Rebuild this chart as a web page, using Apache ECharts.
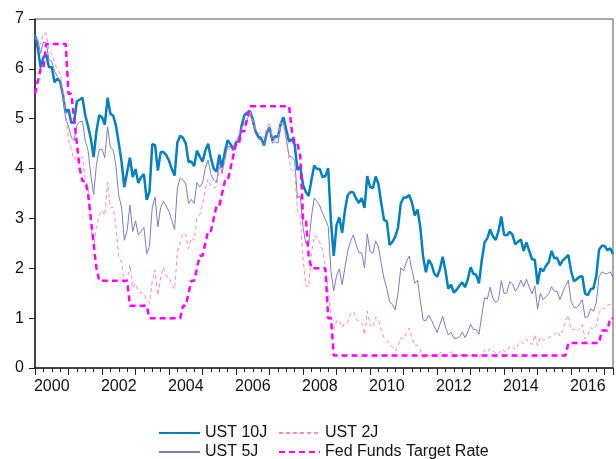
<!DOCTYPE html>
<html>
<head>
<meta charset="utf-8">
<script src="https://cdn.jsdelivr.net/npm/echarts@6/dist/echarts.min.js"></script>
<style>
  html, body { margin: 0; padding: 0; background: #fff; }
  #chart { width: 616px; height: 459px; }
</style>
</head>
<body>
<div id="chart"></div>
<script>
// monthly, month-end, Jan 2000 - Apr 2017
const startYear = 2000
const yearTicks = ['2000', '2002', '2004', '2006', '2008', '2010', '2012', '2014', '2016']

const ust10 = [
  6.68, 6.42, 6.03, 6.23, 6.29, 6.03, 6.04, 5.73, 5.80, 5.75, 5.48, 5.12,
  5.19, 4.92, 4.93, 5.35, 5.38, 5.42, 5.07, 4.85, 4.60, 4.23, 4.75, 5.07,
  5.03, 4.88, 5.42, 5.10, 5.06, 4.86, 4.51, 4.14, 3.63, 3.93, 4.22, 3.83,
  3.99, 3.71, 3.83, 3.89, 3.37, 3.54, 4.49, 4.47, 3.96, 4.33, 4.33, 4.27,
  4.16, 3.99, 3.86, 4.53, 4.66, 4.62, 4.50, 4.13, 4.14, 4.05, 4.36, 4.24,
  4.14, 4.36, 4.50, 4.21, 4.00, 3.94, 4.28, 4.02, 4.34, 4.57, 4.49, 4.39,
  4.53, 4.55, 4.86, 5.07, 5.12, 5.15, 4.99, 4.74, 4.64, 4.61, 4.46, 4.71,
  4.83, 4.56, 4.65, 4.63, 4.90, 5.03, 4.78, 4.54, 4.59, 4.48, 3.97, 4.04,
  3.67, 3.53, 3.45, 3.77, 4.06, 3.99, 3.99, 3.83, 3.85, 4.01, 2.93, 2.25,
  2.87, 3.02, 2.71, 3.16, 3.47, 3.53, 3.52, 3.40, 3.31, 3.41, 3.21, 3.85,
  3.63, 3.61, 3.84, 3.69, 3.31, 2.97, 2.94, 2.47, 2.53, 2.63, 2.81, 3.30,
  3.42, 3.42, 3.47, 3.32, 3.06, 3.18, 2.82, 2.23, 1.92, 2.17, 2.08, 1.89,
  1.83, 1.98, 2.23, 1.95, 1.59, 1.67, 1.51, 1.57, 1.65, 1.72, 1.62, 1.78,
  2.02, 1.89, 1.87, 1.70, 2.16, 2.52, 2.60, 2.78, 2.64, 2.57, 2.75, 3.04,
  2.67, 2.66, 2.73, 2.67, 2.48, 2.53, 2.58, 2.35, 2.52, 2.35, 2.18, 2.17,
  1.68, 2.00, 1.94, 2.05, 2.12, 2.35, 2.20, 2.21, 2.06, 2.16, 2.21, 2.27,
  1.94, 1.74, 1.78, 1.83, 1.84, 1.49, 1.46, 1.58, 1.60, 1.84, 2.37, 2.45,
  2.45, 2.36, 2.40, 2.29
]

const ust5 = [
  6.67, 6.59, 6.31, 6.54, 6.52, 6.18, 6.15, 5.95, 5.85, 5.77, 5.42, 4.99,
  4.85, 4.63, 4.56, 4.87, 4.94, 4.95, 4.56, 4.36, 3.87, 3.48, 4.08, 4.38,
  4.39, 4.22, 4.84, 4.43, 4.37, 4.06, 3.45, 3.23, 2.56, 2.76, 3.27, 2.74,
  2.95, 2.67, 2.74, 2.82, 2.29, 2.44, 3.23, 3.43, 2.83, 3.22, 3.34, 3.25,
  3.14, 2.96, 2.78, 3.62, 3.81, 3.77, 3.69, 3.30, 3.38, 3.30, 3.72, 3.63,
  3.71, 4.01, 4.17, 3.88, 3.77, 3.72, 4.12, 3.91, 4.18, 4.45, 4.43, 4.35,
  4.46, 4.62, 4.82, 4.92, 4.99, 5.10, 4.90, 4.71, 4.59, 4.57, 4.45, 4.70,
  4.82, 4.51, 4.54, 4.51, 4.85, 4.92, 4.60, 4.25, 4.23, 4.16, 3.41, 3.45,
  2.82, 2.50, 2.46, 3.03, 3.41, 3.34, 3.25, 3.10, 2.98, 2.84, 1.93, 1.55,
  1.85, 1.99, 1.67, 2.02, 2.34, 2.54, 2.67, 2.48, 2.31, 2.31, 2.01, 2.69,
  2.34, 2.30, 2.55, 2.43, 2.10, 1.79, 1.60, 1.33, 1.27, 1.17, 1.49, 2.01,
  1.95, 2.13, 2.24, 1.97, 1.70, 1.76, 1.35, 0.96, 0.95, 1.06, 0.96, 0.83,
  0.71, 0.87, 1.04, 0.82, 0.67, 0.72, 0.60, 0.59, 0.62, 0.72, 0.61, 0.72,
  0.88, 0.77, 0.77, 0.68, 1.05, 1.41, 1.38, 1.62, 1.39, 1.31, 1.37, 1.75,
  1.49, 1.51, 1.73, 1.69, 1.54, 1.62, 1.76, 1.63, 1.78, 1.62, 1.49, 1.65,
  1.18, 1.50, 1.37, 1.43, 1.49, 1.63, 1.54, 1.54, 1.37, 1.52, 1.65, 1.76,
  1.33, 1.22, 1.21, 1.28, 1.37, 1.01, 1.03, 1.19, 1.14, 1.31, 1.83, 1.93,
  1.90, 1.89, 1.93, 1.81
]

const ust2 = [
  6.61, 6.59, 6.49, 6.71, 6.72, 6.36, 6.30, 6.13, 5.98, 5.91, 5.58, 5.11,
  4.57, 4.38, 4.18, 4.28, 4.17, 4.24, 3.79, 3.62, 2.86, 2.42, 2.82, 3.07,
  3.16, 3.06, 3.72, 3.21, 3.22, 2.82, 2.23, 2.13, 1.68, 1.75, 2.07, 1.61,
  1.70, 1.55, 1.50, 1.50, 1.35, 1.30, 1.74, 1.97, 1.46, 1.83, 2.02, 1.84,
  1.82, 1.66, 1.58, 2.32, 2.53, 2.70, 2.68, 2.39, 2.61, 2.56, 3.00, 3.08,
  3.27, 3.60, 3.79, 3.65, 3.61, 3.64, 4.03, 3.89, 4.18, 4.40, 4.42, 4.41,
  4.53, 4.69, 4.82, 4.87, 4.99, 5.16, 4.97, 4.79, 4.71, 4.70, 4.62, 4.82,
  4.93, 4.63, 4.58, 4.60, 4.92, 4.87, 4.56, 4.15, 3.97, 3.94, 3.15, 3.05,
  2.19, 1.65, 1.62, 2.30, 2.65, 2.63, 2.51, 2.36, 2.00, 1.56, 1.00, 0.76,
  0.94, 0.96, 0.81, 0.91, 0.91, 1.11, 1.12, 0.97, 0.95, 0.90, 0.67, 1.14,
  0.86, 0.81, 1.02, 0.97, 0.76, 0.61, 0.55, 0.47, 0.42, 0.34, 0.45, 0.61,
  0.58, 0.70, 0.80, 0.61, 0.45, 0.46, 0.36, 0.20, 0.25, 0.24, 0.25, 0.24,
  0.22, 0.30, 0.33, 0.27, 0.27, 0.33, 0.23, 0.23, 0.23, 0.28, 0.25, 0.25,
  0.26, 0.25, 0.25, 0.21, 0.30, 0.36, 0.31, 0.39, 0.33, 0.31, 0.28, 0.38,
  0.34, 0.33, 0.44, 0.42, 0.37, 0.47, 0.53, 0.49, 0.58, 0.50, 0.47, 0.67,
  0.45, 0.62, 0.56, 0.58, 0.61, 0.64, 0.67, 0.74, 0.64, 0.75, 0.94, 1.06,
  0.76, 0.78, 0.73, 0.78, 0.87, 0.58, 0.66, 0.81, 0.77, 0.84, 1.11, 1.20,
  1.19, 1.26, 1.27, 1.28
]

const fedTarget = [
  5.5, 5.75, 6, 6, 6.5, 6.5, 6.5, 6.5, 6.5, 6.5, 6.5, 6.5,
  5.5, 5.5, 5, 4.5, 4, 3.75, 3.75, 3.5, 3, 2.5, 2, 1.75,
  1.75, 1.75, 1.75, 1.75, 1.75, 1.75, 1.75, 1.75, 1.75, 1.75, 1.25, 1.25,
  1.25, 1.25, 1.25, 1.25, 1.25, 1, 1, 1, 1, 1, 1, 1,
  1, 1, 1, 1, 1, 1.25, 1.25, 1.5, 1.75, 1.75, 2, 2.25,
  2.25, 2.5, 2.75, 2.75, 3, 3.25, 3.25, 3.5, 3.75, 3.75, 4, 4.25,
  4.5, 4.5, 4.75, 4.75, 5, 5.25, 5.25, 5.25, 5.25, 5.25, 5.25, 5.25,
  5.25, 5.25, 5.25, 5.25, 5.25, 5.25, 5.25, 5.25, 4.75, 4.5, 4.5, 4.25,
  3, 3, 2.25, 2, 2, 2, 2, 2, 2, 1, 1, 0.25,
  0.25, 0.25, 0.25, 0.25, 0.25, 0.25, 0.25, 0.25, 0.25, 0.25, 0.25, 0.25,
  0.25, 0.25, 0.25, 0.25, 0.25, 0.25, 0.25, 0.25, 0.25, 0.25, 0.25, 0.25,
  0.25, 0.25, 0.25, 0.25, 0.25, 0.25, 0.25, 0.25, 0.25, 0.25, 0.25, 0.25,
  0.25, 0.25, 0.25, 0.25, 0.25, 0.25, 0.25, 0.25, 0.25, 0.25, 0.25, 0.25,
  0.25, 0.25, 0.25, 0.25, 0.25, 0.25, 0.25, 0.25, 0.25, 0.25, 0.25, 0.25,
  0.25, 0.25, 0.25, 0.25, 0.25, 0.25, 0.25, 0.25, 0.25, 0.25, 0.25, 0.25,
  0.25, 0.25, 0.25, 0.25, 0.25, 0.25, 0.25, 0.25, 0.25, 0.25, 0.25, 0.5,
  0.5, 0.5, 0.5, 0.5, 0.5, 0.5, 0.5, 0.5, 0.5, 0.5, 0.5, 0.75,
  0.75, 0.75, 1, 1
]

const font = "'Liberation Sans', Arial, sans-serif"
const xMin = 2000
const xMax = 2017.25

// month index -> position on the year axis
const toPoints = arr => arr.map((v, i) => [startYear + i / 12, v])

const chart = echarts.init(document.getElementById('chart'))

const baseX = {
  type: 'value',
  min: xMin,
  max: xMax,
  position: 'bottom',
  splitLine: { show: false },
  axisLabel: { show: false },
  axisLine: { show: false },
  axisTick: { show: false }
}

// one legend per entry, laid out as a 2x2 block
const legendAt = (name, left, top) => ({
  left: left,
  top: top,
  padding: 0,
  itemWidth: 41,
  itemHeight: 14,
  data: [name],
  itemStyle: { opacity: 0 },
  textStyle: { fontFamily: font, fontSize: 16, color: '#111' }
})

chart.setOption({
  animation: false,
  grid: {
    left: 35,
    right: 1,
    top: 19,
    bottom: 91,
    show: true,
    borderColor: '#555',
    borderWidth: 1
  },
  legend: [
    legendAt('UST 10J', 158, 425),
    legendAt('UST 2J', 278, 425),
    legendAt('UST 5J', 158, 444),
    legendAt('Fed Funds Target Rate', 278, 444)
  ],
  xAxis: [
    {
      ...baseX,
      interval: 0.25,
      axisLine: { show: true, lineStyle: { color: '#222', width: 1.5 } },
      axisTick: { show: true, length: 4, lineStyle: { color: '#222' } }
    },
    {
      ...baseX,
      interval: 1,
      axisTick: { show: true, length: 7, lineStyle: { color: '#222' } }
    },
    {
      ...baseX,
      interval: 0.5,
      axisLabel: {
        show: true,
        margin: 11,
        fontFamily: font,
        fontSize: 16,
        color: '#111',
        formatter: v => {
          const y = String(Math.round(v - 0.5))
          return (Math.abs(v - Math.round(v)) > 0.1 && yearTicks.includes(y)) ? y : ''
        }
      }
    }
  ],
  yAxis: {
    type: 'value',
    min: 0,
    max: 7,
    interval: 1,
    splitLine: { show: false },
    axisLine: { show: true, lineStyle: { color: '#222', width: 1.5 } },
    axisTick: { show: true, length: 6, lineStyle: { color: '#222' } },
    axisLabel: { margin: 11, fontFamily: font, fontSize: 16, color: '#111' }
  },
  series: [
    {
      name: 'UST 10J',
      type: 'line',
      symbol: 'none',
      data: toPoints(ust10),
      lineStyle: { color: '#0080C0', width: 2.5 },
      itemStyle: { color: '#0080C0' }
    },
    {
      name: 'UST 5J',
      type: 'line',
      symbol: 'none',
      data: toPoints(ust5),
      lineStyle: { color: '#7B7BC0', width: 1 },
      itemStyle: { color: '#7B7BC0' }
    },
    {
      name: 'UST 2J',
      type: 'line',
      symbol: 'none',
      data: toPoints(ust2),
      lineStyle: { color: '#FF88C0', width: 1, type: [4, 3] },
      itemStyle: { color: '#FF88C0' }
    },
    {
      name: 'Fed Funds Target Rate',
      type: 'line',
      symbol: 'none',
      data: toPoints(fedTarget),
      lineStyle: { color: '#FF00FF', width: 2.5, type: [6, 4] },
      itemStyle: { color: '#FF00FF' }
    }
  ]
})
</script>
</body>
</html>
